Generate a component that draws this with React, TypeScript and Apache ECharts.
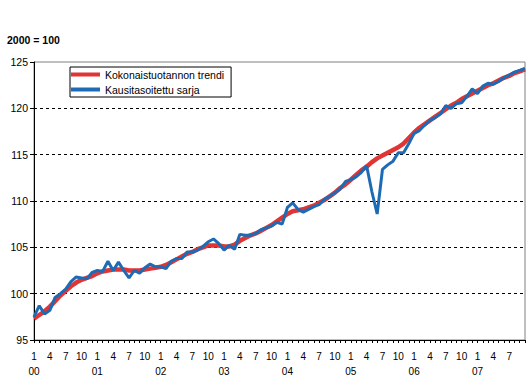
import React, { useEffect, useRef } from "react";
import * as echarts from "echarts";

const FONT = '"Liberation Sans", Arial, Helvetica, sans-serif';

const years = ["00", "01", "02", "03", "04", "05", "06", "07"];
const monthCount = 94; // Jan 2000 .. Oct 2007
const categories: string[] = [];
for (let i = 0; i < monthCount; i++) {
  categories.push(`${years[Math.floor(i / 12)]}-${(i % 12) + 1}`);
}

const trendName = "Kokonaistuotannon trendi";
const seasonalName = "Kausitasoitettu sarja";

const trend = [
  97.3, 97.7, 98.1, 98.6, 99.2, 99.8, 100.3, 100.8, 101.2, 101.5, 101.7, 101.9,
  102.2, 102.4, 102.5, 102.6, 102.6, 102.6, 102.5, 102.5, 102.5, 102.6, 102.7, 102.8,
  102.9, 103.1, 103.4, 103.7, 104.0, 104.3, 104.5, 104.8, 105.0, 105.2, 105.2, 105.2,
  105.1, 105.1, 105.3, 105.7, 106.0, 106.3, 106.5, 106.8, 107.1, 107.4, 107.8, 108.2,
  108.6, 108.9, 109.0, 109.1, 109.3, 109.5, 109.8, 110.1, 110.5, 110.9, 111.4, 111.8,
  112.3, 112.8, 113.3, 113.7, 114.2, 114.6, 114.9, 115.2, 115.5, 115.8, 116.2, 116.8,
  117.4, 117.9, 118.3, 118.7, 119.1, 119.5, 119.9, 120.3, 120.6, 121.0, 121.3, 121.6,
  121.9, 122.2, 122.5, 122.7, 123.0, 123.3, 123.5, 123.8, 124.0, 124.2,
];

const seasonal = [
  97.5, 98.7, 97.8, 98.2, 99.6, 100.0, 100.5, 101.3, 101.8, 101.7, 101.6, 102.3,
  102.5, 102.4, 103.5, 102.5, 103.4, 102.5, 101.7, 102.5, 102.2, 102.8, 103.2, 102.9,
  102.9, 102.7, 103.5, 103.8, 103.8, 104.5, 104.5, 104.7, 105.1, 105.6, 105.9, 105.4,
  104.7, 105.2, 104.8, 106.4, 106.3, 106.3, 106.5, 106.9, 107.1, 107.3, 107.7, 107.5,
  109.3, 109.8, 109.1, 108.8, 109.1, 109.4, 109.6, 110.2, 110.5, 110.9, 111.3, 112.1,
  112.3, 112.6, 113.1, 113.8, 111.0, 108.6, 113.4, 113.9, 114.3, 115.2, 115.2, 116.2,
  117.3, 117.6, 118.2, 118.7, 119.0, 119.4, 120.3, 120.0, 120.5, 120.6, 121.3, 122.1,
  121.6, 122.4, 122.7, 122.6, 122.9, 123.3, 123.6, 123.9, 124.1, 124.3,
];

const yMin = 95;
const yMax = 125;
const yStep = 5;
const unitLabel = "2000 = 100";

export default function App() {
  const ref = useRef<HTMLDivElement>(null);

  useEffect(() => {
    if (!ref.current) return;
    const chart = echarts.init(ref.current, null, { renderer: "svg" });
    chart.setOption({
      animation: false,
      backgroundColor: "#fff",
      textStyle: { fontFamily: FONT },
      grid: {
        left: 34,
        right: 5,
        top: 62,
        bottom: 44,
        show: true,
        borderColor: "#808080",
        borderWidth: 1,
        backgroundColor: "transparent",
      },
      graphic: [
        {
          type: "text",
          x: 7,
          y: 39.5,
          style: {
            text: unitLabel,
            font: `bold 10.5px ${FONT}`,
            fill: "#000",
            textVerticalAlign: "middle",
          },
        },
      ],
      legend: {
        orient: "vertical",
        left: 70,
        top: 67,
        backgroundColor: "#fff",
        borderColor: "#000",
        borderWidth: 1,
        borderRadius: 0,
        padding: [2, 7, 2, 1],
        itemGap: 4,
        itemWidth: 29,
        itemHeight: 4,
        icon: "rect",
        textStyle: { fontSize: 10.5, color: "#000", fontFamily: FONT },
        data: [trendName, seasonalName],
      },
      xAxis: {
        type: "category",
        data: categories,
        boundaryGap: false,
        axisLine: { lineStyle: { color: "#000", width: 1 } },
        axisTick: { show: true, interval: 0, length: 3, lineStyle: { color: "#000" } },
        axisLabel: {
          interval: (index: number) => index % 3 === 0 && index < monthCount - 1,
          color: "#000",
          fontSize: 10,
          fontFamily: FONT,
          lineHeight: 15,
          margin: 9,
          formatter: (_v: string, index: number) => {
            const m = (index % 12) + 1;
            return m === 1 ? `1\n${years[Math.floor(index / 12)]}` : `${m}`;
          },
        },
        splitLine: { show: false },
      },
      yAxis: {
        type: "value",
        min: yMin,
        max: yMax,
        interval: yStep,
        axisLine: { show: true, lineStyle: { color: "#000", width: 1 } },
        axisTick: { show: true, length: 4, lineStyle: { color: "#000" } },
        axisLabel: { color: "#000", fontSize: 10.5, fontFamily: FONT, margin: 6 },
        splitLine: {
          show: true,
          showMinLine: false,
          showMaxLine: false,
          lineStyle: { color: "#000", width: 1, type: [3, 3] },
        },
      },
      series: [
        {
          name: trendName,
          type: "line",
          data: trend,
          showSymbol: false,
          symbol: "none",
          color: "#df3535",
          lineStyle: { color: "#df3535", width: 4.5 },
          z: 2,
        },
        {
          name: seasonalName,
          type: "line",
          data: seasonal,
          showSymbol: false,
          symbol: "none",
          color: "#1d6bb5",
          lineStyle: { color: "#1d6bb5", width: 3 },
          z: 3,
        },
      ],
    });
    return () => chart.dispose();
  }, []);

  return (
    <div
      ref={ref}
      style={{ position: "absolute", left: 0, top: 0, width: 530, height: 384, background: "#fff" }}
    />
  );
}
